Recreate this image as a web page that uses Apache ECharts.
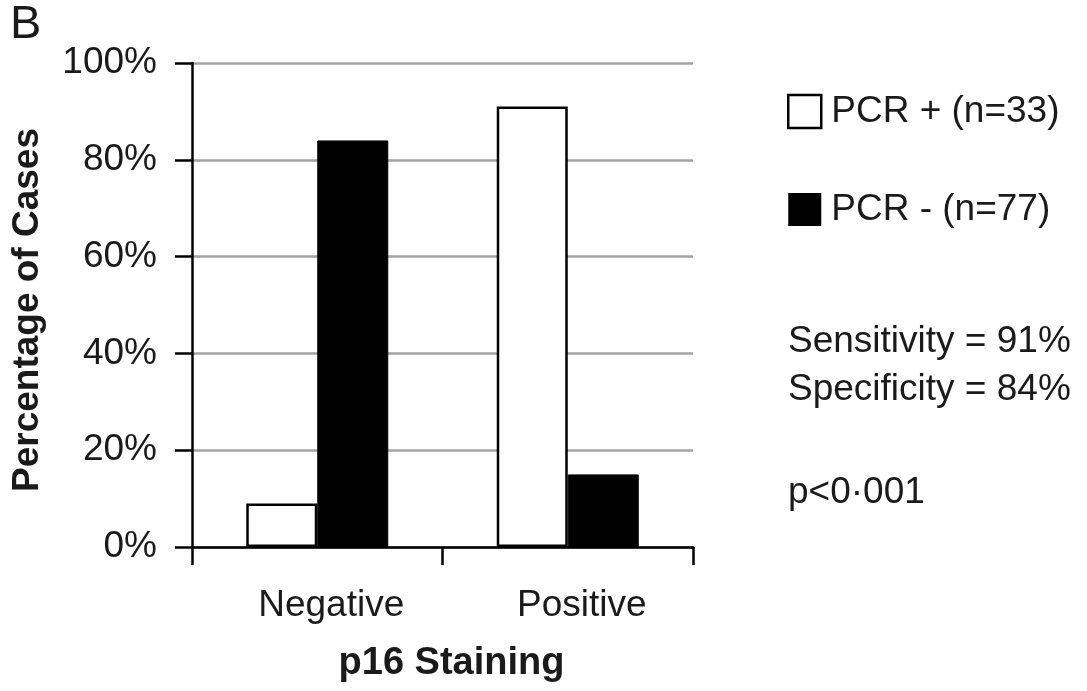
<!DOCTYPE html>
<html>
<head>
<meta charset="utf-8">
<script src="https://cdn.jsdelivr.net/npm/echarts@6/dist/echarts.min.js"></script>
<style>
  html, body { margin: 0; padding: 0; background: #fff; }
  #chart { width: 1087px; height: 691px; }
</style>
</head>
<body>
<div id="chart"></div>
<script>
// p16 staining outcome by HPV PCR status (percentage of cases)
const categories = ['Negative', 'Positive'];
const pcrPositive = [9, 91];   // PCR + (n=33)
const pcrNegative = [84, 15];  // PCR - (n=77)
const seriesNames = ['PCR + (n=33)', 'PCR - (n=77)'];
const yTicks = { min: 0, max: 100, step: 20 };
const statsLines = ['Sensitivity = 91%', 'Specificity = 84%'];
const pValueText = 'p<0\u00b7001';
const panelLabel = 'B';

const FONT = "'Liberation Sans', Arial, Helvetica, sans-serif";
const INK = '#1a1a1a';

const chart = echarts.init(document.getElementById('chart'), null, { renderer: 'canvas' });

chart.setOption({
  backgroundColor: '#ffffff',
  animation: false,
  textStyle: { fontFamily: FONT, color: INK },
  grid: { left: 192, right: 394, top: 63, bottom: 144, containLabel: false },
  legend: {
    orient: 'vertical',
    left: 782,
    top: 88,
    icon: 'rect',
    itemWidth: 33,
    itemHeight: 33,
    itemGap: 61,
    textStyle: { fontFamily: FONT, fontSize: 37, color: INK, padding: [6, 0, 0, 5] },
    data: [
      { name: seriesNames[0], itemStyle: { color: '#ffffff', borderColor: '#000', borderWidth: 2.5 } },
      { name: seriesNames[1], itemStyle: { color: '#000000', borderColor: '#000', borderWidth: 0 } }
    ]
  },
  xAxis: {
    type: 'category',
    data: categories,
    boundaryGap: true,
    name: 'p16 Staining',
    nameLocation: 'middle',
    nameGap: 98,
    nameTextStyle: { fontFamily: FONT, fontSize: 38, fontWeight: 'bold', color: INK, padding: [0, 0, 0, 18] },
    axisLine: { show: true, lineStyle: { color: '#000', width: 2.5 } },
    axisTick: { show: true, inside: false, length: 18, lineStyle: { color: '#000', width: 2.5 } },
    axisLabel: { fontFamily: FONT, fontSize: 37, color: INK, margin: 40, padding: [0, 0, 0, 28] },
    splitLine: { show: false }
  },
  yAxis: {
    type: 'value',
    min: yTicks.min,
    max: yTicks.max,
    interval: yTicks.step,
    name: 'Percentage of Cases',
    nameLocation: 'middle',
    nameGap: 146,
    nameRotate: 90,
    nameTextStyle: { fontFamily: FONT, fontSize: 37, fontWeight: 'bold', color: INK, padding: [0, 10, 0, 0] },
    axisLine: { show: true, lineStyle: { color: '#000', width: 2.5 } },
    axisTick: { show: true, inside: false, length: 17, lineStyle: { color: '#000', width: 2.5 } },
    axisLabel: { fontFamily: FONT, fontSize: 37, color: INK, margin: 35, formatter: '{value}%' },
    splitLine: { show: true, lineStyle: { color: '#a3a3a3', width: 2.5 } }
  },
  series: [
    {
      name: seriesNames[0],
      type: 'bar',
      data: pcrPositive,
      barWidth: 71,
      barGap: '0%',
      itemStyle: { color: '#ffffff', borderColor: '#000000', borderWidth: 2.5 }
    },
    {
      name: seriesNames[1],
      type: 'bar',
      data: pcrNegative,
      barWidth: 71,
      barGap: '0%',
      itemStyle: { color: '#000000', borderColor: '#000000', borderWidth: 1 }
    }
  ],
  graphic: [
    {
      type: 'text', left: 10, top: 2,
      style: { text: panelLabel, font: '47px ' + FONT, fill: INK }
    },
    {
      type: 'text', left: 788, top: 318,
      style: { text: statsLines.join('\n'), font: '37px ' + FONT, fill: INK, lineHeight: 48 }
    },
    {
      type: 'text', left: 788, top: 474,
      style: { text: pValueText, font: '37px ' + FONT, fill: INK }
    }
  ]
});
</script>
</body>
</html>
